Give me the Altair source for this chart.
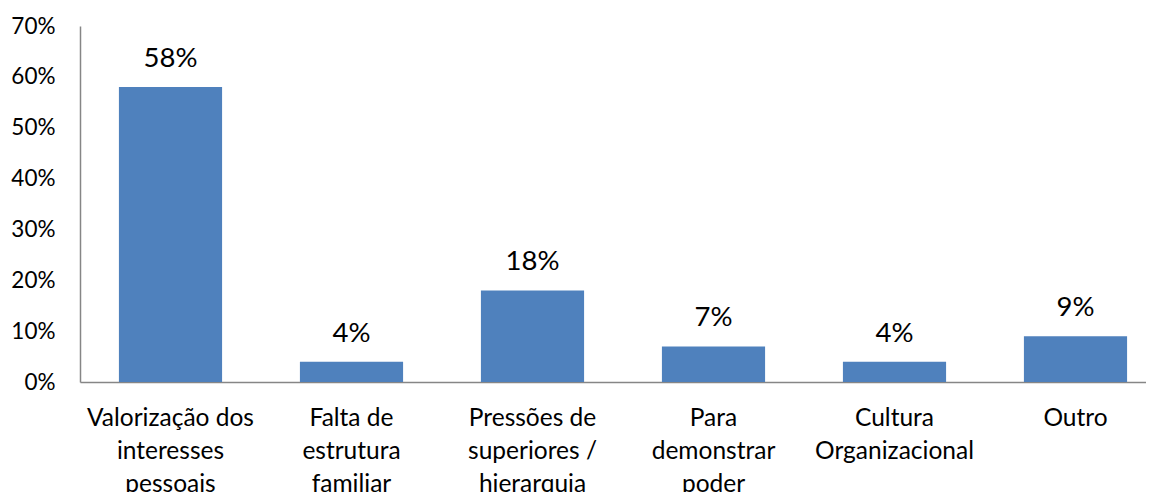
import altair as alt
import pandas as pd

categories = [
    "Valorização dos|interesses|pessoais",
    "Falta de|estrutura|familiar",
    "Pressões de|superiores /|hierarquia",
    "Para|demonstrar|poder",
    "Cultura|Organizacional",
    "Outro",
]
values = [0.58, 0.04, 0.18, 0.07, 0.04, 0.09]
y_ticks = [0, 0.1, 0.2, 0.3, 0.4, 0.5, 0.6, 0.7]

df = pd.DataFrame({"cat": categories, "val": values})

FONT = "Lato"

x_enc = alt.X(
    "cat:N",
    sort=categories,
    title=None,
    scale=alt.Scale(range=[0, 1086], paddingInner=0.43, paddingOuter=0.215),
    axis=alt.Axis(
        labelExpr="split(datum.label, '|')",
        labelAngle=0,
        labelFontSize=24.5,
        labelFont=FONT,
        labelColor="black",
        labelLineHeight=33,
        labelPadding=24,
        labelBaseline="top",
        ticks=False,
        domainColor="#868686",
        domainWidth=1.5,
        grid=False,
        labelLimit=300,
    ),
)

y_enc = alt.Y(
    "val:Q",
    title=None,
    scale=alt.Scale(domain=[0, 0.7], nice=False),
    axis=alt.Axis(
        values=y_ticks,
        format=".0%",
        labelFontSize=22.5,
        labelFont=FONT,
        labelColor="black",
        labelPadding=25,
        ticks=False,
        domainColor="#868686",
        domainWidth=1.5,
        grid=False,
    ),
)

bars = alt.Chart(df).mark_bar(color="#4F81BD").encode(x=x_enc, y=y_enc)

labels = alt.Chart(df).mark_text(
    fontSize=27.5, font=FONT, color="black", baseline="alphabetic", dy=-20
).encode(
    x=alt.X("cat:N", sort=categories),
    y=alt.Y("val:Q"),
    text=alt.Text("val:Q", format=".0%"),
)

chart = (
    alt.layer(bars, labels)
    .properties(
        width=1066,
        height=356,
        autosize=alt.AutoSizeParams(type="none"),
        padding={"left": 72, "top": 18, "right": 0, "bottom": 110},
        background="white",
    )
    .configure_view(stroke=None)
)

chart.save("out.html", embed_options={"renderer": "svg", "actions": False})
